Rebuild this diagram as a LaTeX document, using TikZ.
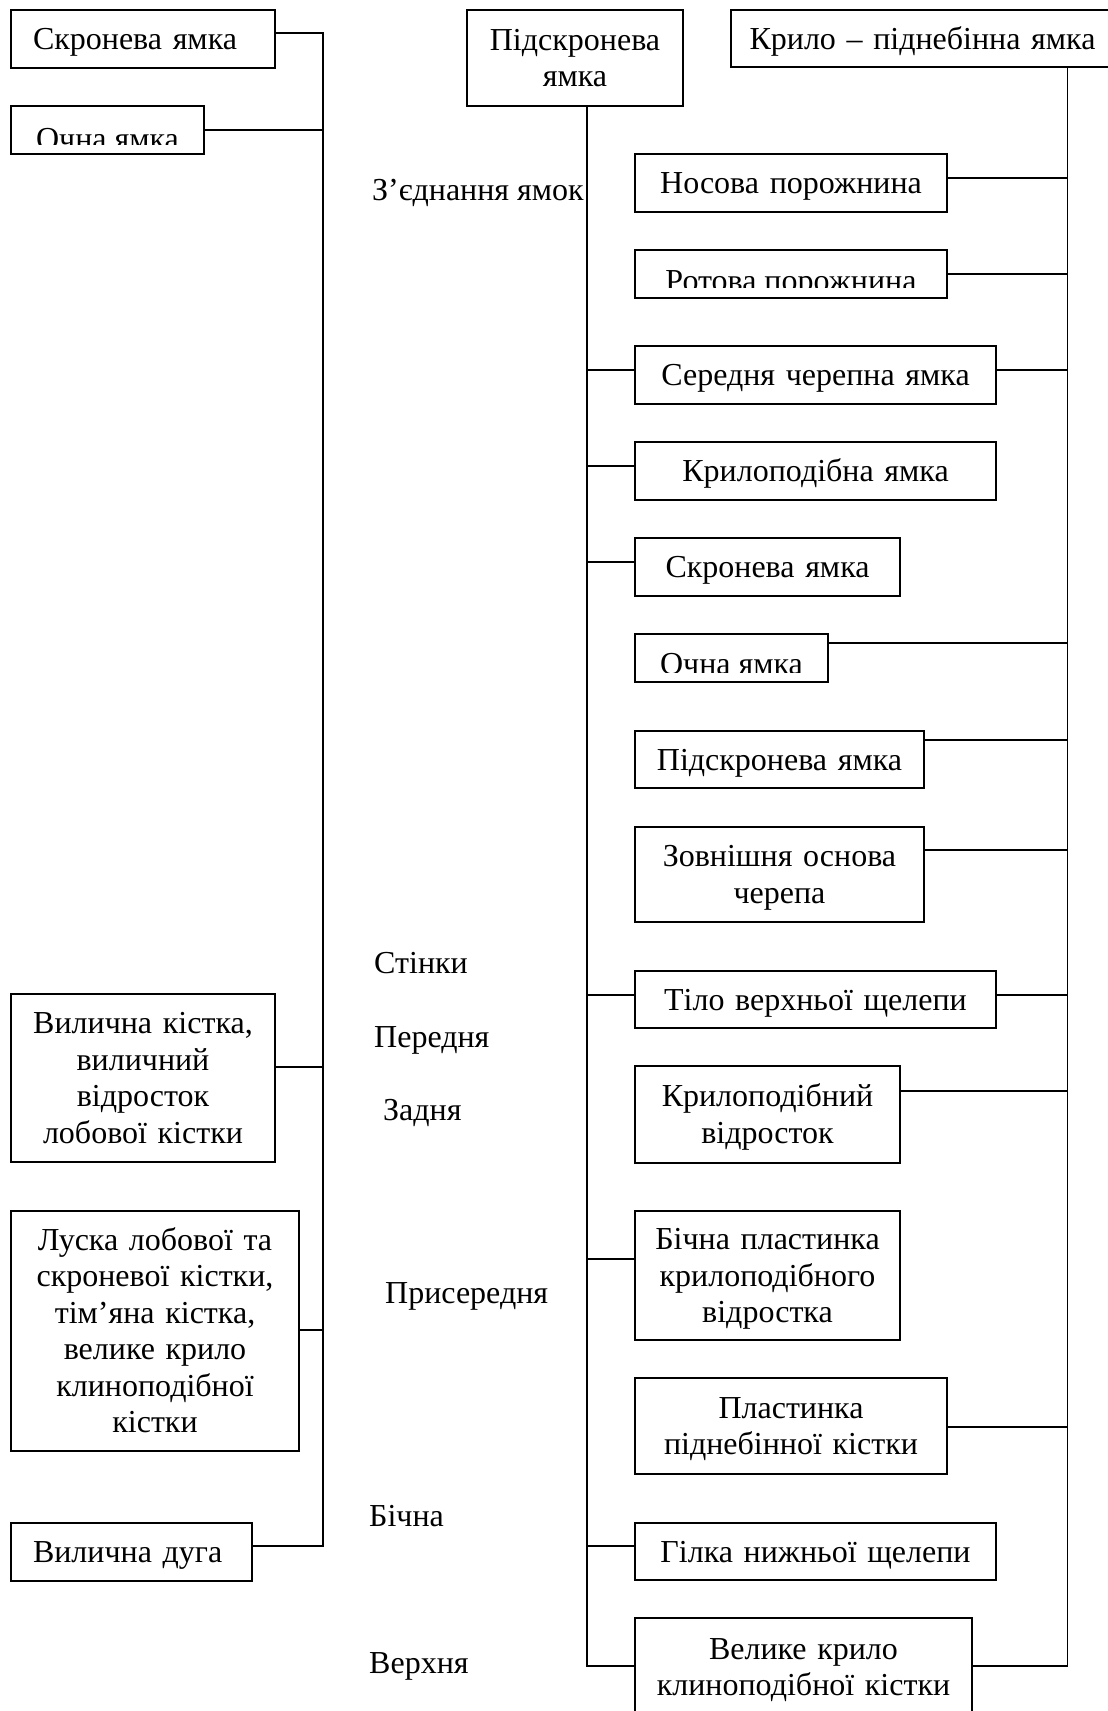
\documentclass[tikz,border=0pt]{standalone}
\usepackage{fontspec}
\setmainfont{Liberation Serif}
\usetikzlibrary{calc}
\begin{document}
\begin{tikzpicture}[x=1pt,y=-1pt,
  every node/.style={font=\fontsize{32}{36.5}\selectfont},
  wire/.style={line width=1.9pt},
  box/.style={draw, line width=1.9pt, rectangle, inner sep=0pt, outer sep=0pt,
    align=center, text height=21pt, text depth=0pt},
  size/.style 2 args={minimum width=#1pt, minimum height=#2pt, text width=#1pt-12pt},
  rows/.style={text depth=#1*36.5pt},
  lbl/.style={anchor=base west, inner sep=0pt},
  cut/.style={anchor=base, inner sep=0pt}]
\useasboundingbox (0,0) rectangle (1108,1711);
\clip (0,0) rectangle (1108,1711);

% ---------- left column: walls of the temporal fossa ----------
\node[box, size={264}{58}, align=left, text width=220pt] (L1) at (143,39) {Скронева ямка};
\node[box, size={193}{48}] (L2) at (107.5,130) {};
\begin{scope}
  \clip (L2.north west) rectangle ($(L2.south east)+(0,-10)$);
  \node[cut] (L2t) at ($(L2.north)+(0,43)$) {Очна ямка};
\end{scope}
\node[box, size={264}{168}, rows=3] (L3) at (143,1078)
  {Вилична кістка,\\виличний\\відросток\\лобової кістки};
\node[box, size={288}{240}, rows=5] (L4) at (155,1331)
  {Луска лобової та\\скроневої кістки,\\тім’яна кістка,\\велике крило\\клиноподібної\\кістки};
\node[box, size={241}{58}, align=left, text width=197pt] (L5) at (131.5,1552) {Вилична дуга};

% ---------- headers ----------
\node[box, size={216}{96}, rows=1] (M) at (575,58) {Підскронева\\ямка};
\node[box, size={383}{57}] (K) at (922.5,38.5) {Крило – піднебінна ямка};

% ---------- right column ----------
\node[box, size={312}{58}] (R1) at (791,183) {Носова порожнина};
\node[box, size={312}{48}] (R2) at (791,274) {};
\begin{scope}
  \clip (R2.north west) rectangle ($(R2.south east)+(0,-11)$);
  \node[cut] (R2t) at ($(R2.north)+(0,41)$) {Ротова порожнина};
\end{scope}
\node[box, size={361}{58}] (R3) at (815.5,375) {Середня черепна ямка};
\node[box, size={361}{58}] (R4) at (815.5,471) {Крилоподібна ямка};
\node[box, size={265}{58}] (R5) at (767.5,567) {Скронева ямка};
\node[box, size={193}{48}] (R6) at (731.5,658) {};
\begin{scope}
  \clip (R6.north west) rectangle ($(R6.south east)+(0,-10)$);
  \node[cut] (R6t) at ($(R6.north)+(0,40)$) {Очна ямка};
\end{scope}
\node[box, size={289}{57}] (R7) at (779.5,759.5) {Підскронева ямка};
\node[box, size={289}{95}, rows=1] (R8) at (779.5,874.5) {Зовнішня основа\\черепа};
\node[box, size={361}{57}] (R9) at (815.5,999.5) {Тіло верхньої щелепи};
\node[box, size={265}{97}, rows=1] (R10) at (767.5,1114.5) {Крилоподібний\\відросток};
\node[box, size={265}{129}, rows=2] (R11) at (767.5,1275.5)
  {Бічна пластинка\\крилоподібного\\відростка};
\node[box, size={312}{96}, rows=1] (R12) at (791,1426) {Пластинка\\піднебінної кістки};
\node[box, size={361}{57}] (R13) at (815.5,1551.5) {Гілка нижньої щелепи};
\node[box, size={337}{98}, rows=1] (R14) at (803.5,1667) {Велике крило\\клиноподібної кістки};

% ---------- free labels ----------
\node[lbl] (z) at (372,200) {З’єднання ямок};
\node[lbl] (w0) at (374,973) {Стінки};
\node[lbl] (w1) at (374,1047) {Передня};
\node[lbl] (w2) at (383,1120) {Задня};
\node[lbl] (w3) at (385,1303) {Присередня};
\node[lbl] (w4) at (369,1526) {Бічна};
\node[lbl] (w5) at (369,1673) {Верхня};

% ---------- left trunk ----------
\coordinate (lt) at (323,33);
\coordinate (l2) at (323,130);
\coordinate (l3) at (323,1067);
\coordinate (l4) at (323,1330);
\coordinate (lb) at (323,1546);
\draw[wire] (L1.east |- lt) -- (lt) -- (lb) -- (L5.east |- lb);
\draw[wire] (L2.east |- l2) -- (l2);
\draw[wire] (L3.east |- l3) -- (l3);
\draw[wire] (L4.east |- l4) -- (l4);

% ---------- middle trunk ----------
\coordinate (mb) at (587,1666);
\coordinate (m3) at (587,370);
\coordinate (m4) at (587,466);
\coordinate (m5) at (587,562);
\coordinate (m9) at (587,995);
\coordinate (m11) at (587,1259);
\coordinate (m13) at (587,1546);
\draw[wire] (M.south -| mb) -- (mb) -- (R14.west |- mb);
\foreach \j/\n in {m3/R3, m4/R4, m5/R5, m9/R9, m11/R11, m13/R13}
  \draw[wire] (\j) -- (\n.west |- \j);

% ---------- right trunk ----------
\coordinate (rb) at (1067.5,1666);
\coordinate (r1) at (1067.5,178);
\coordinate (r2) at (1067.5,274);
\coordinate (r3) at (1067.5,370);
\coordinate (r6) at (1067.5,643);
\coordinate (r7) at (1067.5,740);
\coordinate (r8) at (1067.5,850);
\coordinate (r9) at (1067.5,995);
\coordinate (r10) at (1067.5,1091);
\coordinate (r12) at (1067.5,1427);
\draw[wire] (K.south -| rb) -- (rb) -- (R14.east |- rb);
\foreach \j/\n in {r1/R1, r2/R2, r3/R3, r6/R6, r7/R7, r8/R8, r9/R9, r10/R10, r12/R12}
  \draw[wire] (\j) -- (\n.east |- \j);
\end{tikzpicture}
\end{document}
